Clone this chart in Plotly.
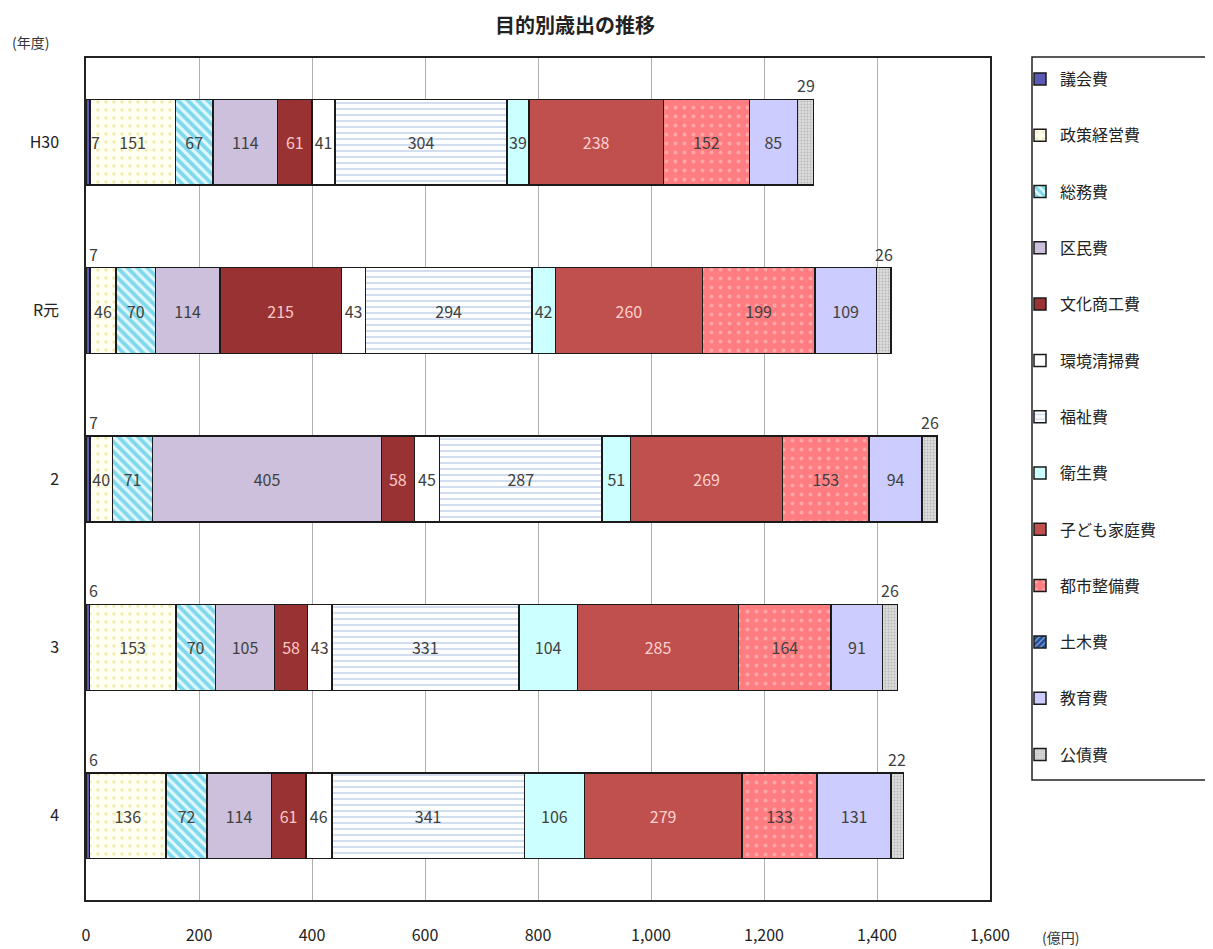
import plotly.graph_objects as go

years = ["H30", "R元", "2", "3", "4"]
categories = ["議会費", "政策経営費", "総務費", "区民費", "文化商工費", "環境清掃費", "福祉費",
              "衛生費", "子ども家庭費", "都市整備費", "土木費", "教育費", "公債費"]

gikai = [7, 7, 7, 6, 6]
seisaku = [151, 46, 40, 153, 136]
somu = [67, 70, 71, 70, 72]
kumin = [114, 114, 405, 105, 114]
bunka = [61, 215, 58, 58, 61]
kankyo = [41, 43, 45, 43, 46]
fukushi = [304, 294, 287, 331, 341]
eisei = [39, 42, 51, 104, 106]
kodomo = [238, 260, 269, 285, 279]
toshi = [152, 199, 153, 164, 133]
doboku = [None, None, None, None, None]
kyoiku = [85, 109, 94, 91, 131]
kosai = [29, 26, 26, 26, 22]

series = [gikai, seisaku, somu, kumin, bunka, kankyo, fukushi, eisei, kodomo, toshi, doboku, kyoiku, kosai]

styles = [
    dict(color="#5a5ab4", pattern=None, tc="#404040", show=False),
    dict(color="#fffff2", pattern=dict(shape=".", fgcolor="#e6d46a", bgcolor="#fffff2", size=8, solidity=0.15), tc="#404040", show=True),
    dict(color="#ffffff", pattern=dict(shape="\\", fgcolor="#1fb8d8", bgcolor="#e0f8ff", size=7, solidity=0.55), tc="#404040", show=True),
    dict(color="#ccc0dc", pattern=None, tc="#404040", show=True),
    dict(color="#993333", pattern=None, tc="#ffc8c8", show=True),
    dict(color="#ffffff", pattern=None, tc="#404040", show=True),
    dict(color="#ffffff", pattern=dict(shape="-", fgcolor="#a6bee0", bgcolor="#ffffff", size=6, solidity=0.35), tc="#404040", show=True),
    dict(color="#ccffff", pattern=None, tc="#404040", show=True),
    dict(color="#c0504d", pattern=None, tc="#ffd0d0", show=True),
    dict(color="#ff7c80", pattern=dict(shape=".", fgcolor="#ffd0d0", bgcolor="#ff7c80", size=9, solidity=0.15), tc="#404040", show=True),
    dict(color="#1f4e99", pattern=dict(shape="/", fgcolor="#ffffff", bgcolor="#1f4e99", size=5, solidity=0.3), tc="#404040", show=False),
    dict(color="#ccccff", pattern=None, tc="#404040", show=True),
    dict(color="#c8c8c8", pattern=dict(shape=".", fgcolor="#909090", bgcolor="#dcdcdc", size=3, solidity=0.3), tc="#404040", show=False),
]

FONT = "Noto Sans CJK JP"
fig = go.Figure()
for i, (name, vals, st) in enumerate(zip(categories, series, styles)):
    marker = dict(color=st["color"], line=dict(color="#1a1a1a", width=1.5))
    if st["pattern"]:
        marker["pattern"] = st["pattern"]
    fig.add_trace(go.Bar(
        name=name, y=years, x=vals, orientation="h", marker=marker,
        text=[str(v) if v is not None else "" for v in vals] if st["show"] else None,
        textposition="inside" if st["show"] else "none",
        insidetextanchor="middle", textangle=0, constraintext="none",
        textfont=dict(family=FONT, size=16, color=st["tc"]),
        legendgroup=f"g{i}", hoverinfo="x+name",
    ))

annotations = []
for j, y in enumerate(years):
    total = sum(v for s in series for v in [s[j]] if v is not None)
    if j == 0:
        annotations.append(dict(x=gikai[j], y=y, xref="x", yref="y", text=str(gikai[j]), showarrow=False,
                                xanchor="left", xshift=-1, font=dict(family=FONT, size=16, color="#404040")))
    else:
        annotations.append(dict(x=0, y=y, xref="x", yref="y", text=str(gikai[j]), showarrow=False,
                                xanchor="left", xshift=1, yshift=57, font=dict(family=FONT, size=16, color="#404040")))
    annotations.append(dict(x=total - kosai[j] / 2, y=y, xref="x", yref="y", text=str(kosai[j]), showarrow=False,
                            yshift=57, font=dict(family=FONT, size=16, color="#404040")))

# plot area in page pixels: x 86..990, y 58..900
def px(x):
    return (x - 86) / 904

def py(y):
    return (900 - y) / 842

annotations += [
    dict(x=px(575), y=py(24), xref="paper", yref="paper", text="<b>目的別歳出の推移</b>", showarrow=False,
         xanchor="center", yanchor="middle", font=dict(family=FONT, size=20, color="#222")),
    dict(x=px(30), y=py(42), xref="paper", yref="paper", text="(年度)", showarrow=False,
         xanchor="center", yanchor="middle", font=dict(family=FONT, size=14, color="#333")),
    dict(x=px(1060), y=py(937), xref="paper", yref="paper", text="(億円)", showarrow=False,
         xanchor="center", yanchor="middle", font=dict(family=FONT, size=14, color="#333")),
]

fig.update_layout(
    width=1213, height=949,
    margin=dict(l=78, r=231, t=50, b=57),
    paper_bgcolor="white", plot_bgcolor="white",
    barmode="stack", bargap=0.49,
    font=dict(family=FONT, size=16, color="#222"),
    uniformtext=dict(minsize=16, mode="show"),
    showlegend=True,
    legend=dict(x=px(1020), y=py(62), xanchor="left", yanchor="top", traceorder="grouped",
                tracegroupgap=32.5, font=dict(family=FONT, size=16, color="#222"),
                bgcolor="rgba(0,0,0,0)", borderwidth=0, itemwidth=30),
    xaxis=dict(range=[0, 1600], dtick=200, tickformat=",d", showgrid=True, gridcolor="#b0b0b0", gridwidth=1,
               showline=True, linecolor="#222", linewidth=1.5, mirror=True, zeroline=False,
               ticks="", ticklabelstandoff=20, tickfont=dict(family=FONT, size=16, color="#222")),
    yaxis=dict(categoryorder="array", categoryarray=years, autorange="reversed",
               showline=True, linecolor="#222", linewidth=1.5, mirror=True, showgrid=False,
               ticks="", ticklabelstandoff=22, tickfont=dict(family=FONT, size=16, color="#222")),
    annotations=annotations,
    shapes=[dict(type="rect", xref="paper", yref="paper", x0=px(1032), x1=px(1240),
                 y0=py(780), y1=py(57), line=dict(color="#222", width=1.5))],
)

fig.write_html("out.html")
